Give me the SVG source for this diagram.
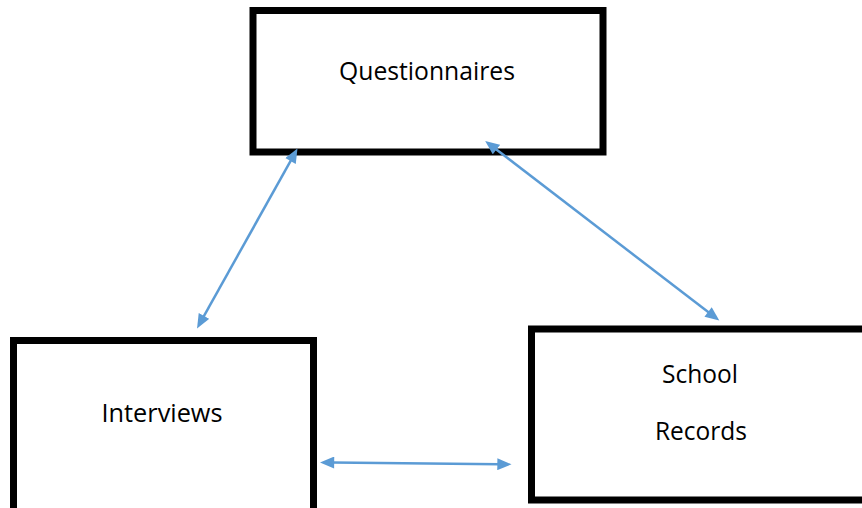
<svg xmlns="http://www.w3.org/2000/svg" width="862" height="508" viewBox="0 0 862 508">
<style>
.box{fill:#ffffff;stroke:#000000;stroke-width:7}
.lbl{font-family:"Open Sans","Liberation Sans",sans-serif;font-size:25px;fill:#000000;text-anchor:middle}
.conn{stroke:#5B9BD5;stroke-width:2.5;fill:none;marker-start:url(#ah);marker-end:url(#ah)}
</style>
<defs>
<marker id="ah" markerUnits="userSpaceOnUse" markerWidth="15" markerHeight="12" refX="2" refY="5.5" orient="auto-start-reverse" viewBox="0 0 13 11">
<path d="M0,0 L13,5.5 L0,11 z" fill="#5B9BD5"/>
</marker>
</defs>
<rect width="862" height="508" fill="#ffffff"/>
<g id="questionnaires">
<rect class="box" x="253" y="10.5" width="350" height="141.5"/>
<text class="lbl" x="427" y="80" textLength="176" lengthAdjust="spacingAndGlyphs">Questionnaires</text>
</g>
<g id="interviews">
<rect class="box" x="13.5" y="340.5" width="300" height="180"/>
<text class="lbl" x="162" y="421.5" textLength="121" lengthAdjust="spacingAndGlyphs">Interviews</text>
</g>
<g id="school-records">
<rect class="box" x="531.5" y="329" width="345" height="171"/>
<text class="lbl" x="700" y="383" textLength="76" lengthAdjust="spacingAndGlyphs">School</text>
<text class="lbl" x="701" y="440" textLength="92" lengthAdjust="spacingAndGlyphs">Records</text>
</g>
<g id="connectors">
<line class="conn" x1="291.6" y1="159.1" x2="202.9" y2="317.9"/>
<line class="conn" x1="494.7" y1="148.2" x2="709.8" y2="313.3"/>
<line class="conn" x1="332" y1="462.6" x2="499.5" y2="464.2"/>
</g>
</svg>
